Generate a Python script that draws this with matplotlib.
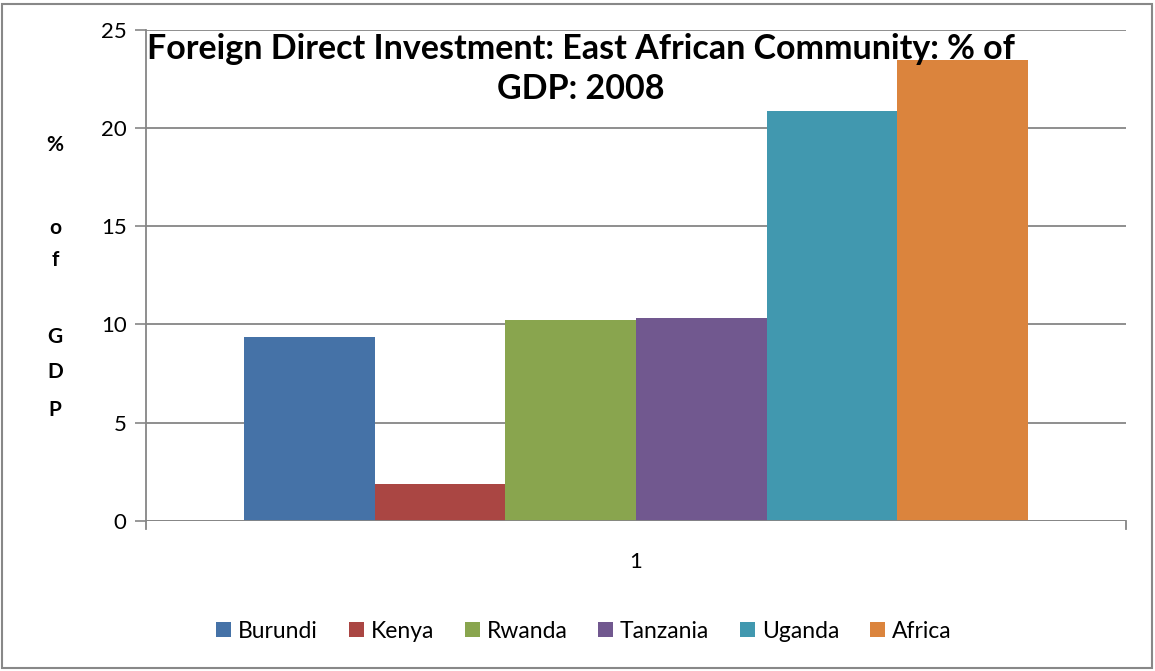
import matplotlib
matplotlib.use("Agg")
import matplotlib.pyplot as plt
from matplotlib.patches import Rectangle

countries = ["Burundi", "Kenya", "Rwanda", "Tanzania", "Uganda", "Africa"]
values = [9.36, 1.88, 10.22, 10.33, 20.85, 23.45]
colors = ["#4572A7", "#AA4643", "#89A54E", "#71588F", "#4198AF", "#DB843D"]
category_labels = ["1"]
yticks = [0, 5, 10, 15, 20, 25]
title = "Foreign Direct Investment: East African Community: % of\nGDP: 2008"

plt.rcParams['font.family'] = ['Lato', 'DejaVu Sans']

W, H = 1155, 671
fig = plt.figure(figsize=(W / 100, H / 100), dpi=100)
ax = fig.add_axes([146 / W, 1 - 521 / H, (1126 - 146) / W, (521 - 29.5) / H])

n = len(values)
bw = 0.8 / n
for i, (c, v, col) in enumerate(zip(countries, values, colors)):
    x = -0.4 + bw * (i + 0.5)
    ax.bar(x, v, width=bw, color=col, label=c, zorder=3)

ax.set_xlim(-0.5, 0.5)
ax.set_ylim(0, 25)
ax.set_yticks(yticks)
ax.set_yticklabels([str(t) for t in yticks], fontsize=16)
ax.set_xticks([0])
ax.set_xticklabels(category_labels, fontsize=16)
ax.tick_params(axis='x', length=0, pad=22)
ax.tick_params(axis='y', length=8, color='#868686', width=1.2, pad=6)
ax.yaxis.grid(True, color='#868686', linewidth=1.3, zorder=0)
for s in ['top', 'right', 'bottom']:
    ax.spines[s].set_visible(False)
ax.spines['left'].set_color('#868686')
ax.spines['left'].set_linewidth(1.3)
ax.axhline(0, color='#868686', linewidth=1.3, zorder=4)
# category boundary ticks on x axis
for xb in (-0.5, 0.5):
    ax.plot([xb, xb], [0, -8 / 19.66], color='#868686', linewidth=1.3, clip_on=False, zorder=4)

fig.text(581 / W, 1 - 69 / H, title, ha='center', va='center', fontsize=24.5,
         fontweight='bold', linespacing=1.3)

# stacked y label letters
ylab = [("%", 145), ("o", 228), ("f", 260), ("G", 337), ("D", 372), ("P", 410)]
for ch, yp in ylab:
    fig.text(55 / W, 1 - yp / H, ch, ha='center', va='center', fontsize=15, fontweight='bold')

leg = fig.legend(loc='center', bbox_to_anchor=(584 / W, 1 - 631 / H), ncol=6, frameon=False,
                 fontsize=16.5, handlelength=0.65, handleheight=0.65, handletextpad=0.3,
                 columnspacing=1.35)

fig.patches.append(Rectangle((2 / W, 3 / H), (1152 - 2) / W, (668 - 4) / H,
                             transform=fig.transFigure, fill=False,
                             edgecolor='#888888', linewidth=1.5))

fig.savefig("out.png", dpi=100)
